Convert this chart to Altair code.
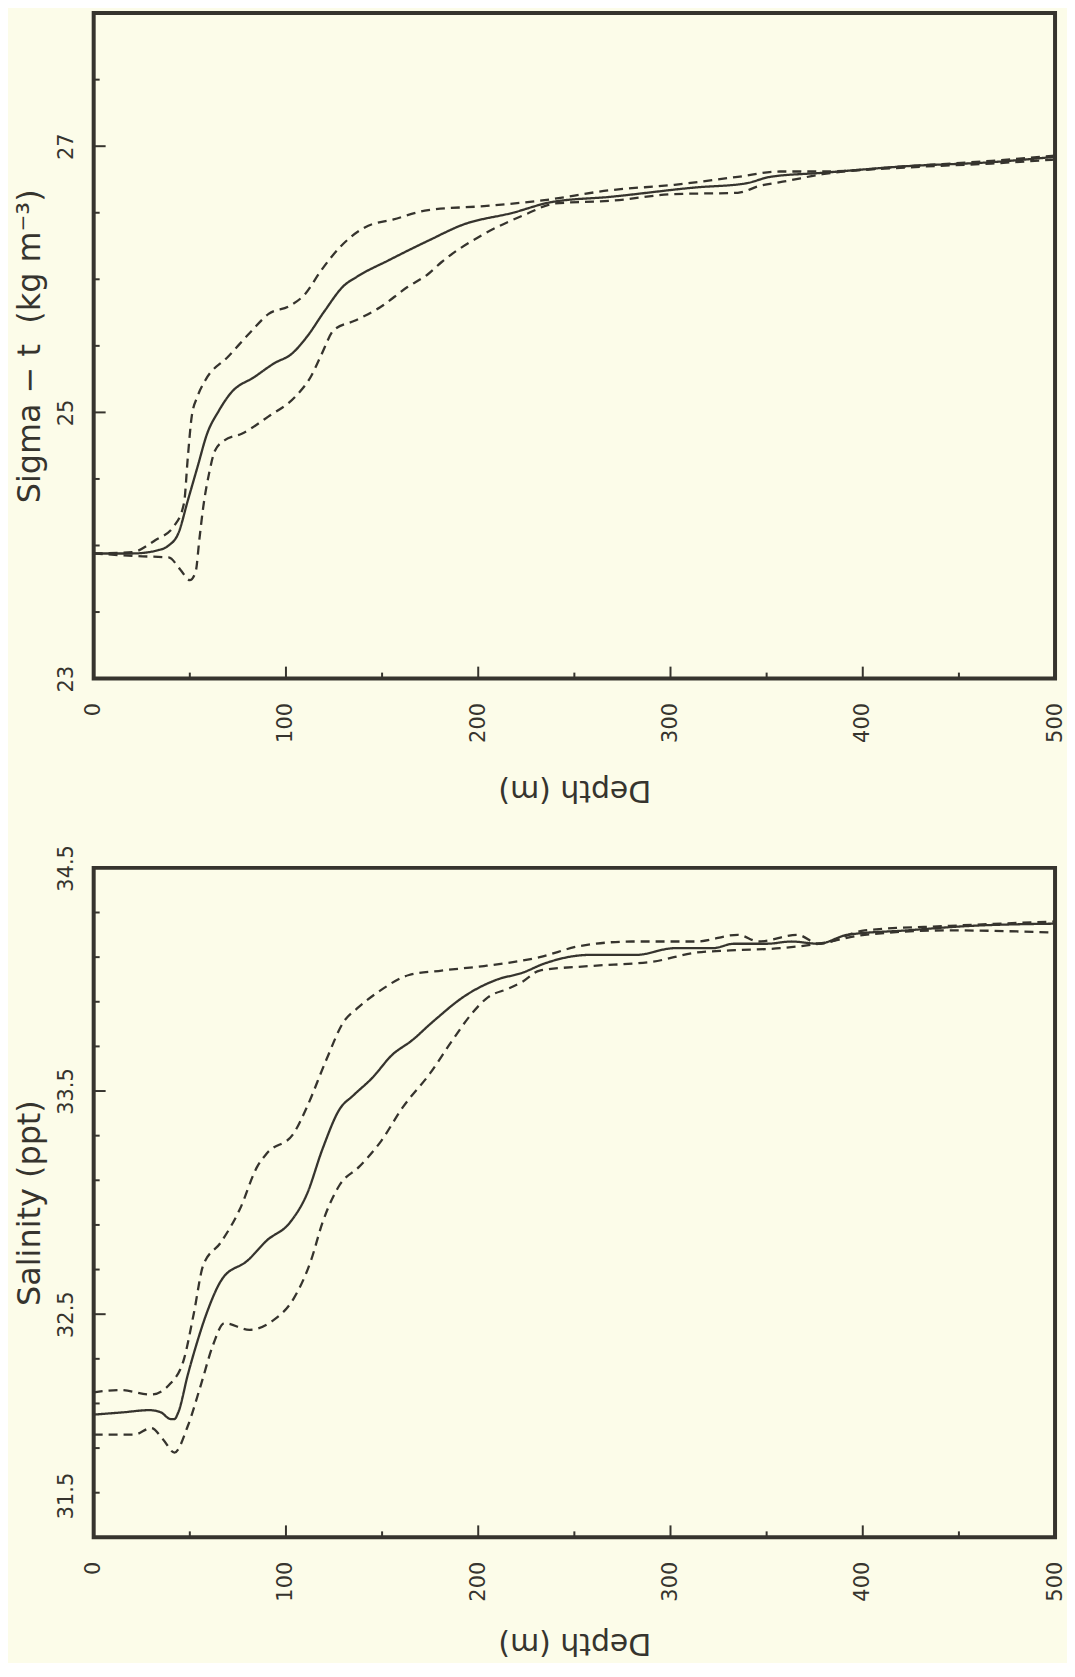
import altair as alt
import pandas as pd

# ---------------- data ----------------
# Sigma-t panel
sig_mean_depth = [0, 20, 35, 39, 44, 49, 54, 59, 65, 71, 84, 94, 103, 111, 120, 130, 137, 153, 174, 192, 218, 238, 269, 313, 339, 352, 379, 423, 467, 500]
sig_mean = [23.94, 23.94, 23.97, 24.00, 24.09, 24.34, 24.59, 24.84, 25.01, 25.14, 25.27, 25.37, 25.44, 25.57, 25.76, 25.95, 26.02, 26.14, 26.29, 26.41, 26.50, 26.58, 26.62, 26.69, 26.72, 26.77, 26.80, 26.85, 26.88, 26.92]

sig_up_depth = [0, 20, 32, 42, 47, 49, 51, 54, 58, 70, 82, 91, 102, 110, 118, 128, 141, 156, 174, 203, 232, 269, 302, 335, 357, 379, 423, 467, 500]
sig_up = [23.94, 23.95, 24.04, 24.15, 24.32, 24.67, 24.97, 25.12, 25.24, 25.42, 25.61, 25.74, 25.80, 25.89, 26.06, 26.24, 26.39, 26.45, 26.52, 26.55, 26.59, 26.67, 26.71, 26.77, 26.81, 26.81, 26.85, 26.89, 26.93]

sig_lo_depth = [0, 23, 39, 45, 50, 53, 55, 57, 60, 63, 68, 77, 91, 105, 113, 118, 125, 136, 149, 163, 174, 181, 203, 225, 240, 269, 302, 335, 346, 361, 379, 423, 467, 500]
sig_lo = [23.94, 23.92, 23.91, 23.82, 23.74, 23.80, 24.05, 24.29, 24.54, 24.71, 24.79, 24.84, 24.97, 25.12, 25.27, 25.42, 25.62, 25.69, 25.79, 25.94, 26.04, 26.13, 26.34, 26.49, 26.57, 26.59, 26.64, 26.65, 26.70, 26.74, 26.79, 26.84, 26.87, 26.90]

# Salinity panel
sal_mean_depth = [0, 15, 29, 35, 40, 42, 44, 49, 54, 59, 67, 80, 90, 102, 111, 119, 128, 135, 145, 155, 166, 175, 179, 192, 210, 223, 234, 258, 282, 302, 322, 333, 350, 363, 377, 392, 423, 456, 500]
sal_mean = [32.05, 32.06, 32.07, 32.06, 32.03, 32.03, 32.06, 32.23, 32.38, 32.51, 32.66, 32.74, 32.83, 32.91, 33.04, 33.24, 33.42, 33.48, 33.56, 33.66, 33.73, 33.80, 33.83, 33.92, 34.00, 34.03, 34.07, 34.11, 34.11, 34.14, 34.14, 34.16, 34.16, 34.17, 34.16, 34.20, 34.22, 34.24, 34.25]

sal_up_depth = [0, 14, 30, 40, 47, 52, 57, 66, 76, 85, 90, 104, 111, 121, 130, 137, 149, 164, 181, 203, 232, 253, 280, 313, 335, 346, 366, 377, 401, 445, 500]
sal_up = [32.15, 32.16, 32.14, 32.19, 32.30, 32.50, 32.72, 32.82, 32.97, 33.16, 33.22, 33.31, 33.43, 33.64, 33.81, 33.87, 33.95, 34.02, 34.04, 34.06, 34.10, 34.15, 34.17, 34.17, 34.20, 34.17, 34.20, 34.16, 34.22, 34.24, 34.26]

sal_lo_depth = [0, 21, 30, 36, 42, 49, 56, 62, 68, 81, 93, 104, 113, 119, 128, 138, 149, 161, 175, 186, 196, 205, 216, 223, 232, 258, 291, 313, 331, 357, 377, 401, 445, 500]
sal_lo = [31.96, 31.96, 31.99, 31.94, 31.88, 32.00, 32.19, 32.36, 32.46, 32.43, 32.47, 32.57, 32.74, 32.91, 33.08, 33.16, 33.27, 33.43, 33.58, 33.72, 33.84, 33.92, 33.96, 33.99, 34.04, 34.06, 34.08, 34.12, 34.13, 34.14, 34.16, 34.20, 34.22, 34.21]

# axis ticks / labels
depth_labels = [0, 100, 200, 300, 400, 500]
depth_major = [100, 200, 300, 400]
depth_minor = [50, 150, 250, 350, 450]

sig_labels = [23, 25, 27]
sig_major = [23, 25, 27]
sig_minor = [23.5, 24, 24.5, 25.5, 26, 26.5, 27.5]

sal_labels = [31.5, 32.5, 33.5, 34.5]
sal_major = [32.5, 33.5]
sal_minor = [31.7, 31.9, 32.1, 32.3, 32.7, 32.9, 33.1, 33.3, 33.7, 33.9, 34.1, 34.3]

# ---------------- styling ----------------
BG = "#fcfce9"
INK = "#36342e"
FONT = "DejaVu Sans"
W = 965
MAJ = 12
MIN = 6


def build_df(parts):
    rows = []
    for name, kind, d, v in parts:
        for a, b in zip(d, v):
            rows.append({"depth": a, "value": b, "series": name, "kind": kind})
    return pd.DataFrame(rows)


def panel(parts, ydom, ylabels, ymaj, ymin, yfmt, ytitle, h, label_offset, xtitle_y):
    df = build_df(parts)
    xscale = alt.Scale(domain=[0, 500], nice=False, zero=False)
    yscale = alt.Scale(domain=ydom, nice=False, zero=False)

    xaxis = alt.Axis(
        values=depth_labels, format="d", labelAngle=270, labelPadding=24,
        labelFontSize=21, ticks=False, domain=False, grid=False,
        title="Depth (m)", titleAngle=180, titleFontSize=30,
        titleFontWeight="normal", titleX=W / 2, titleY=xtitle_y,
        titleBaseline="middle", titleAlign="center",
    )
    yaxis = alt.Axis(
        values=ylabels, format=yfmt, labelAngle=270, labelPadding=21,
        labelFontSize=21, labelAlign="center", labelBaseline="alphabetic",
        labelOffset=label_offset,
        ticks=False, domain=False, grid=False,
        title=ytitle, titleAngle=270, titleFontSize=32,
        titleFontWeight="normal", titleX=-54, titleY=h / 2,
        titleBaseline="alphabetic", titleAlign="center",
    )

    lines = alt.Chart(df).mark_line(
        interpolate="monotone", strokeWidth=2.3, color=INK, clip=True
    ).encode(
        x=alt.X("depth:Q", scale=xscale, axis=xaxis),
        y=alt.Y("value:Q", scale=yscale, axis=yaxis),
        detail="series:N",
        strokeDash=alt.StrokeDash(
            "kind:N",
            scale=alt.Scale(domain=["mean", "range"], range=[[1, 0], [9, 6]]),
            legend=None,
        ),
        order="depth:Q",
    )

    def yticks(vals, ln):
        return alt.Chart(pd.DataFrame({"value": vals})).mark_rule(
            color=INK, strokeWidth=2
        ).encode(
            y=alt.Y("value:Q", scale=yscale, axis=yaxis),
            x=alt.value(0), x2=alt.value(ln),
        )

    def xticks(vals, ln):
        return alt.Chart(pd.DataFrame({"depth": vals})).mark_rule(
            color=INK, strokeWidth=2
        ).encode(
            x=alt.X("depth:Q", scale=xscale, axis=xaxis),
            y=alt.value(h), y2=alt.value(h - ln),
        )

    return alt.layer(
        lines,
        yticks(ymaj, MAJ), yticks(ymin, MIN),
        xticks(depth_major, MAJ), xticks(depth_minor, MIN),
    ).properties(width=W, height=h)


top = panel(
    [("sig_mean", "mean", sig_mean_depth, sig_mean),
     ("sig_up", "range", sig_up_depth, sig_up),
     ("sig_lo", "range", sig_lo_depth, sig_lo)],
    [23, 28], sig_labels, sig_major, sig_minor, "d",
    "Sigma \u2212 t\u00a0\u00a0(kg m\u207b\u00b3)", 668, 0, 111,
)

bottom = panel(
    [("sal_mean", "mean", sal_mean_depth, sal_mean),
     ("sal_up", "range", sal_up_depth, sal_up),
     ("sal_lo", "range", sal_lo_depth, sal_lo)],
    [31.5, 34.5], sal_labels, sal_major, sal_minor, ".1f",
    "Salinity (ppt)", 672,
    {"condition": {"test": "datum.value == 31.5", "value": -42}, "value": 0},
    106,
)

chart = alt.vconcat(top, bottom, spacing=36).configure(
    background=BG,
    padding={"left": 4, "top": 0, "right": 0, "bottom": 0},
).configure_view(
    stroke=INK, strokeWidth=4, fill=BG,
).configure_axis(
    labelFont=FONT, titleFont=FONT, labelColor=INK, titleColor=INK,
)

chart.save("out.html", embed_options={"renderer": "svg", "actions": False})
